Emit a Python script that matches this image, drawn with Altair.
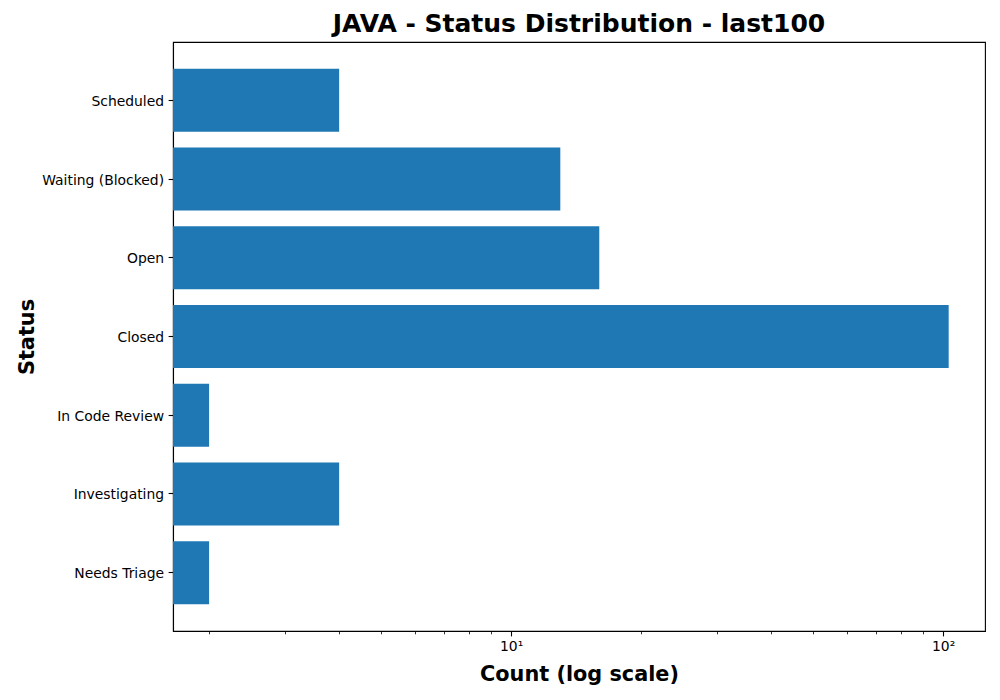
import altair as alt
import pandas as pd

statuses = ["Scheduled", "Waiting (Blocked)", "Open", "Closed",
            "In Code Review", "Investigating", "Needs Triage"]
counts = [4, 13, 16, 103, 2, 4, 2]
x_ticks = [2, 3, 4, 5, 6, 7, 8, 9, 10, 20, 30, 40, 50, 60, 70, 80, 90, 100]
x_domain = [1.65, 125]

df = pd.DataFrame({"Status": statuses, "Count": counts})

FONT = "DejaVu Sans"

chart = alt.Chart(df).mark_bar(color="#1f77b4").encode(
    y=alt.Y(
        "Status:N",
        sort=statuses,
        scale=alt.Scale(paddingInner=0.2, paddingOuter=0.34),
        axis=alt.Axis(
            title="Status",
            titleFont=FONT, titleFontSize=20.8, titleFontWeight="bold",
            titleColor="black",
            titleAngle=-90, titleBaseline="alphabetic", titleAlign="center",
            titleX=-140, titleY=294.5,
            labelFont=FONT, labelFontSize=13.9, labelColor="black",
            labelPadding=4.5, labelOffset=1.5,
            tickSize=4.9, tickWidth=1.1, tickColor="black",
            domainColor="black", domainWidth=1.1, grid=False,
        ),
    ),
    x=alt.X(
        "Count:Q",
        scale=alt.Scale(type="log", domain=x_domain, nice=False, zero=False),
        axis=alt.Axis(
            title="Count (log scale)",
            titleFont=FONT, titleFontSize=20.8, titleFontWeight="bold",
            titleColor="black", titlePadding=11,
            values=x_ticks,
            labelExpr="datum.value == 10 ? '10¹' : (datum.value == 100 ? '10²' : '')",
            labelFont=FONT, labelFontSize=13.9, labelColor="black",
            labelPadding=4, labelFlush=False,
            tickSize={"condition": {"test": "datum.value == 10 || datum.value == 100", "value": 4.9}, "value": 2.8},
            tickWidth={"condition": {"test": "datum.value == 10 || datum.value == 100", "value": 1.1}, "value": 0.8},
            tickColor="black",
            domainColor="black", domainWidth=1.1, grid=False,
        ),
    ),
    x2=alt.datum(x_domain[0]),
).properties(
    width=812,
    height=589,
    title=alt.Title(
        "JAVA - Status Distribution - last100",
        font=FONT, fontSize=25, fontWeight="bold", color="black",
        anchor="middle", offset=5,
    ),
    padding={"left": 165, "top": 34, "right": 7, "bottom": 60},
    autosize="none",
).configure_view(
    stroke="black", strokeWidth=1.1
)

chart.save("out.html", embed_options={"renderer": "svg", "actions": False})
